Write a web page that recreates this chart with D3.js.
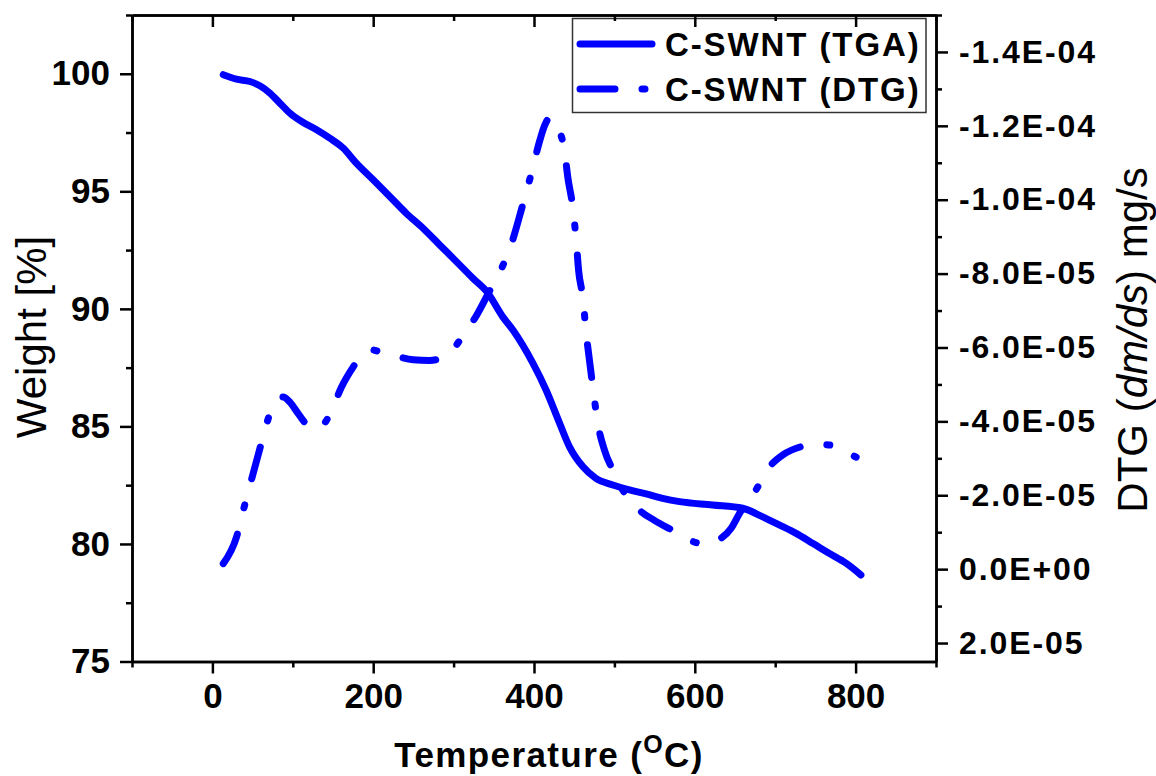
<!DOCTYPE html>
<html>
<head>
<meta charset="utf-8">
<script src="https://cdn.jsdelivr.net/npm/d3@7"></script>
<style>
  body { margin: 0; background: #fff; }
  text { font-family: "Liberation Sans", Arial, sans-serif; }
</style>
</head>
<body>
<svg id="chart" width="1156" height="776"></svg>
<script>
// ---- TGA: weight (%) against temperature (°C)
const tgaTemp = [13.5, 30, 46.7, 59, 71.5, 84, 96.4, 111, 129.6, 146, 162.6, 179, 200, 220.6, 241, 262,
  282.7, 303.5, 324, 342, 361, 373.8, 398.6, 415, 431.8, 444, 460.7, 477, 498, 518.8, 539.5, 560, 581,
  622, 659.5, 684, 705, 726, 746.5, 767, 788, 806.6];
const tgaWeight = [99.96, 99.77, 99.67, 99.49, 99.18, 98.75, 98.33, 97.97, 97.62, 97.26, 96.84, 96.2,
  95.49, 94.78, 94.07, 93.43, 92.72, 92.01, 91.3, 90.7, 89.67, 89.1, 87.69, 86.55, 85.14, 84.14, 83.29,
  82.79, 82.51, 82.3, 82.13, 81.94, 81.8, 81.66, 81.52, 81.16, 80.81, 80.45, 80.03, 79.6, 79.18, 78.68];

// ---- DTG: mass-loss rate (mg/s) against temperature (°C)
const dtgTemp = [13.5, 30, 38.4, 46.7, 59, 67.5, 77.8, 88, 96.4, 106.7, 121, 131.6, 142, 150, 160.6,
  175, 187.5, 197.9, 206, 226.8, 249.6, 270.3, 293, 311.7, 328.3, 345, 359.4, 371.8, 386.2, 398.6, 407,
  414, 419.5, 425, 431.8, 438, 442.1, 448.3, 452.5, 455.5, 460.7, 465, 469, 473.2, 479.4, 487.7, 498,
  510.4, 527, 549.8, 572.6, 601.6, 615, 630, 645, 655.4, 676, 692.7, 710, 730, 750, 771, 785, 800.7];
const dtgRate = [-0.15e-5, -0.87e-5, -1.59e-5, -2.27e-5, -3.26e-5, -3.94e-5, -4.52e-5, -4.66e-5,
  -4.52e-5, -4.21e-5, -3.85e-5, -3.80e-5, -4.03e-5, -4.39e-5, -4.93e-5, -5.47e-5, -5.83e-5, -5.94e-5,
  -5.90e-5, -5.78e-5, -5.67e-5, -5.65e-5, -5.81e-5, -6.32e-5, -6.86e-5, -7.54e-5, -8.13e-5, -8.80e-5,
  -9.88e-5, -10.87e-5, -11.59e-5, -12.05e-5, -12.22e-5, -12.15e-5, -11.86e-5, -11.32e-5, -10.60e-5,
  -9.79e-5, -8.89e-5, -8.08e-5, -7.36e-5, -6.37e-5, -5.65e-5, -4.93e-5, -3.94e-5, -3.22e-5, -2.68e-5,
  -2.14e-5, -1.68e-5, -1.32e-5, -1.05e-5, -0.72e-5, -0.68e-5, -0.80e-5, -1.10e-5, -1.50e-5, -2.14e-5,
  -2.76e-5, -3.10e-5, -3.30e-5, -3.38e-5, -3.35e-5, -3.20e-5, -3.03e-5];

// ---- axis ticks
const tempTicks = [0, 200, 400, 600, 800];
const tempMinorTicks = [-100, 100, 300, 500, 700, 900];
const weightTicks = [75, 80, 85, 90, 95, 100];
const weightMinorTicks = [77.5, 82.5, 87.5, 92.5, 97.5, 102.5];
const rateTicks = [-14e-5, -12e-5, -10e-5, -8e-5, -6e-5, -4e-5, -2e-5, 0, 2e-5];
const rateMinorTicks = [-15e-5, -13e-5, -11e-5, -9e-5, -7e-5, -5e-5, -3e-5, -1e-5, 1e-5];

const seriesNames = ["C-SWNT (TGA)", "C-SWNT (DTG)"];

const BLUE = "#0000ff";
const svg = d3.select("#chart");
const plot = { left: 132, right: 936, top: 15, bottom: 661.5 };

const x = d3.scaleLinear().domain([-100, 900]).range([plot.left, plot.right]);
const yW = d3.scaleLinear().domain([75, 102.5]).range([plot.bottom, plot.top]);
const yR = d3.scaleLinear().domain([2.5e-5, -15e-5]).range([plot.bottom, plot.top]);

// scientific labels such as -1.4E-04
function sciFormat(d) {
  if (Math.abs(d) < 1e-15) return "0.0E+00";
  const e = Math.floor(Math.log10(Math.abs(d)) + 1e-9);
  const m = d / Math.pow(10, e);
  return m.toFixed(1) + "E" + (e < 0 ? "-" : "+") + String(Math.abs(e)).padStart(2, "0");
}

// ---- curves
const tgaData = tgaTemp.map((t, i) => [t, tgaWeight[i]]);
const dtgData = dtgTemp.map((t, i) => [t, dtgRate[i]]);

const tgaLine = d3.line().x(d => x(d[0])).y(d => yW(d[1])).curve(d3.curveMonotoneX);
const dtgLine = d3.line().x(d => x(d[0])).y(d => yR(d[1])).curve(d3.curveMonotoneX);

const LW = 7;
const DASH = "33,27,3,27";

svg.append("path").datum(tgaData).attr("d", tgaLine)
  .attr("fill", "none").attr("stroke", BLUE).attr("stroke-width", LW)
  .attr("stroke-linecap", "round").attr("stroke-linejoin", "round");

svg.append("path").datum(dtgData).attr("d", dtgLine)
  .attr("fill", "none").attr("stroke", BLUE).attr("stroke-width", LW)
  .attr("stroke-linecap", "round").attr("stroke-linejoin", "round")
  .attr("stroke-dasharray", DASH);

// ---- legend
const leg = svg.append("g");
leg.append("rect").attr("x", 572.5).attr("y", 18.5).attr("width", 353.5).attr("height", 94)
  .attr("fill", "#fff").attr("stroke", "#333").attr("stroke-width", 1.5);
const legRows = [{ y: 44, dash: null }, { y: 89, dash: "35,27,3,27" }];
legRows.forEach((r, i) => {
  const ln = leg.append("line").attr("x1", 580).attr("x2", 652).attr("y1", r.y).attr("y2", r.y)
    .attr("stroke", BLUE).attr("stroke-width", LW).attr("stroke-linecap", "round");
  if (r.dash) ln.attr("stroke-dasharray", r.dash);
  leg.append("text").attr("x", 665).attr("y", r.y + 11.5)
    .attr("font-size", 33).attr("font-weight", "bold").attr("letter-spacing", 1.9).attr("fill", "#000")
    .text(seriesNames[i]);
});

// ---- axes
const AX = 2.5;
function styleAxis(g) {
  g.select(".domain").attr("stroke", "#000").attr("stroke-width", AX);
  g.selectAll(".tick line").attr("stroke", "#000").attr("stroke-width", AX);
  g.selectAll(".tick text").attr("fill", "#000").attr("font-weight", "bold")
    .attr("font-family", "'Liberation Sans', Arial, sans-serif");
}

// bottom
const gB = svg.append("g").attr("transform", `translate(0,${plot.bottom})`)
  .call(d3.axisBottom(x).tickValues(tempTicks).tickSizeInner(12).tickSizeOuter(0).tickPadding(10).tickFormat(d3.format("d")));
styleAxis(gB);
gB.selectAll(".tick text").attr("font-size", 35);
const gBm = svg.append("g").attr("transform", `translate(0,${plot.bottom})`)
  .call(d3.axisBottom(x).tickValues(tempMinorTicks).tickSizeInner(6).tickSizeOuter(0).tickFormat(""));
styleAxis(gBm);

// top (inward ticks, no labels)
const gT = svg.append("g").attr("transform", `translate(0,${plot.top})`)
  .call(d3.axisTop(x).tickValues(tempTicks).tickSizeInner(-12).tickSizeOuter(0).tickFormat(""));
styleAxis(gT);
const gTm = svg.append("g").attr("transform", `translate(0,${plot.top})`)
  .call(d3.axisTop(x).tickValues(tempMinorTicks).tickSizeInner(-6).tickSizeOuter(0).tickFormat(""));
styleAxis(gTm);

// left
const gL = svg.append("g").attr("transform", `translate(${plot.left},0)`)
  .call(d3.axisLeft(yW).tickValues(weightTicks).tickSizeInner(12).tickSizeOuter(0).tickPadding(10).tickFormat(d3.format("d")));
styleAxis(gL);
gL.selectAll(".tick text").attr("font-size", 35);
const gLm = svg.append("g").attr("transform", `translate(${plot.left},0)`)
  .call(d3.axisLeft(yW).tickValues(weightMinorTicks).tickSizeInner(6).tickSizeOuter(0).tickFormat(""));
styleAxis(gLm);

// right
const gR = svg.append("g").attr("transform", `translate(${plot.right},0)`)
  .call(d3.axisRight(yR).tickValues(rateTicks).tickSizeInner(12).tickSizeOuter(0).tickPadding(11).tickFormat(sciFormat));
styleAxis(gR);
gR.selectAll(".tick text").attr("font-size", 32).attr("letter-spacing", 1.9);
const gRm = svg.append("g").attr("transform", `translate(${plot.right},0)`)
  .call(d3.axisRight(yR).tickValues(rateMinorTicks).tickSizeInner(6).tickSizeOuter(0).tickFormat(""));
styleAxis(gRm);

// ---- axis titles
const xt = svg.append("text").attr("x", 549).attr("y", 767).attr("text-anchor", "middle")
  .attr("font-size", 35).attr("font-weight", "bold").attr("letter-spacing", 1.4).attr("fill", "#000");
xt.append("tspan").text("Temperature (");
xt.append("tspan").attr("font-size", 25).attr("dy", -14).text("O");
xt.append("tspan").attr("dy", 14).text("C)");

svg.append("text").attr("transform", "translate(46,337) rotate(-90)").attr("text-anchor", "middle")
  .attr("font-size", 42).attr("fill", "#000").text("Weight [%]");

const yt = svg.append("text").attr("transform", "translate(1147,340) rotate(-90)").attr("text-anchor", "middle")
  .attr("font-size", 42).attr("fill", "#000");
yt.append("tspan").text("DTG (");
yt.append("tspan").attr("font-style", "italic").text("dm/ds");
yt.append("tspan").text(") mg/s");
</script>
</body>
</html>
